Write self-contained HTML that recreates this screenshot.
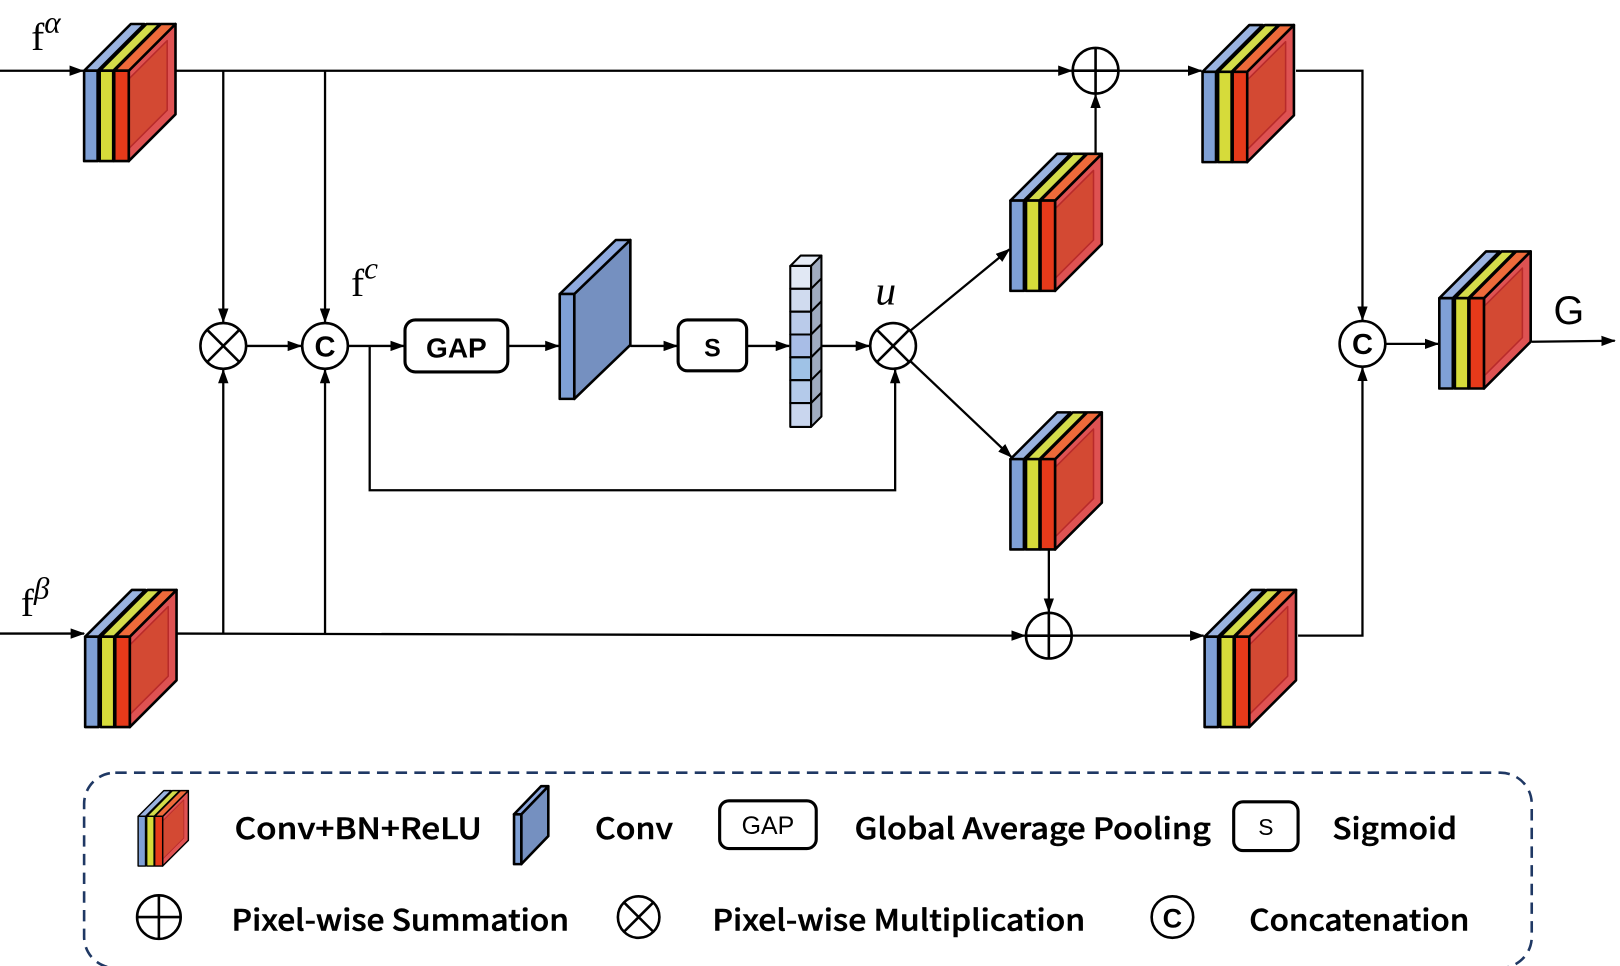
<!DOCTYPE html>
<html><head><meta charset="utf-8"><style>
html,body{margin:0;padding:0;background:#fff;}
svg{display:block;}
.t{font-family:"Noto Sans CJK SC","Liberation Sans",sans-serif;font-size:28px;fill:#000;font-weight:500;stroke:#000;stroke-width:0.5;}
.s{font-family:"Liberation Serif",serif;fill:#000;}
</style></head><body>
<svg width="1620" height="966" viewBox="0 0 1560 930" xmlns="http://www.w3.org/2000/svg">
<defs>
<marker id="a" markerWidth="14" markerHeight="10" refX="13" refY="5" orient="auto" markerUnits="userSpaceOnUse">
<path d="M0,0 L14,5 L0,10 z" fill="#000"/></marker>
<g id="blk" stroke="#000" stroke-width="2.5" stroke-linejoin="round">
<path d="M43,0 L88,-45 L88,42 L43,87 z" fill="#DE5252"/>
<path d="M43,8 L80,-29 L80,38 L43,75 z" fill="#CC4420" stroke="#A01010" stroke-width="1.5" opacity="0.6"/>
<path d="M0,0 L45,-45 L58,-45 L13,0 z" fill="#9AB3E0"/>
<path d="M15,0 L60,-45 L73,-45 L28,0 z" fill="#D4DC4A"/>
<path d="M29,0 L74,-45 L88,-45 L43,0 z" fill="#EE6A3A"/>
<rect x="0" y="0" width="13" height="87" fill="#7FA0D6"/>
<rect x="15" y="0" width="13" height="87" fill="#D6DB3A"/>
<rect x="29" y="0" width="14" height="87" fill="#E63A1A"/>
</g>
</defs>

<g fill="none" stroke="#000" stroke-width="2.2">
<line x1="0" y1="68" x2="80" y2="68" marker-end="url(#a)"/>
<line x1="168" y1="68" x2="1032" y2="68" marker-end="url(#a)"/>
<line x1="1077" y1="68" x2="1157" y2="68" marker-end="url(#a)"/>
<polyline points="1248,68 1312,68 1312,308" marker-end="url(#a)"/>
<line x1="215" y1="68" x2="215" y2="310" marker-end="url(#a)"/>
<line x1="313" y1="68" x2="313" y2="310" marker-end="url(#a)"/>
<line x1="0" y1="610" x2="81" y2="610" marker-end="url(#a)"/>
<line x1="170" y1="610" x2="987" y2="612" marker-end="url(#a)"/>
<line x1="1032" y1="612" x2="1159" y2="612" marker-end="url(#a)"/>
<polyline points="1250,612 1312,612 1312,354" marker-end="url(#a)"/>
<line x1="215" y1="610" x2="215" y2="356" marker-end="url(#a)"/>
<line x1="313" y1="610" x2="313" y2="356" marker-end="url(#a)"/>
<line x1="237" y1="333" x2="290" y2="333" marker-end="url(#a)"/>
<line x1="335" y1="333" x2="389" y2="333" marker-end="url(#a)"/>
<polyline points="356,333 356,472 862,472 862,356" marker-end="url(#a)"/>
<line x1="489" y1="333" x2="538" y2="333" marker-end="url(#a)"/>
<line x1="607" y1="333" x2="652" y2="333" marker-end="url(#a)"/>
<line x1="719" y1="333" x2="760" y2="333" marker-end="url(#a)"/>
<line x1="791" y1="333" x2="837" y2="333" marker-end="url(#a)"/>
<line x1="877" y1="318" x2="972" y2="240" marker-end="url(#a)"/>
<line x1="877" y1="348" x2="974" y2="440" marker-end="url(#a)"/>
<line x1="1055" y1="148" x2="1055" y2="91" marker-end="url(#a)"/>
<line x1="1010" y1="529" x2="1010" y2="589" marker-end="url(#a)"/>
<line x1="1334" y1="331" x2="1385" y2="331" marker-end="url(#a)"/>
<line x1="1475" y1="329" x2="1555" y2="328" marker-end="url(#a)"/>
</g>

<use href="#blk" x="81" y="68"/>
<use href="#blk" x="82" y="613"/>
<use href="#blk" x="973" y="193"/>
<use href="#blk" x="973" y="442"/>
<use href="#blk" x="1158" y="69"/>
<use href="#blk" x="1160" y="613"/>
<use href="#blk" x="1386" y="287"/>

<g stroke="#000" stroke-width="2.5" stroke-linejoin="round">
<path d="M553,283 L607,231 L607,332 L553,384 z" fill="#7590C0"/>
<path d="M539,283 L593,231 L607,231 L553,283 z" fill="#8FAADF"/>
<rect x="539" y="283" width="14" height="101" fill="#7FA0D6"/>
</g>
<g stroke="#000" stroke-width="2" stroke-linejoin="round">
<path d="M761,256 L771,246 L791,246 L781,256 z" fill="#E6ECF6"/>
<path d="M781,256 L791,246 L791,401 L781,411 z" fill="#A0ACC0"/>
<rect x="761" y="256" width="20" height="22" fill="#E1E8F4"/>
<rect x="761" y="278" width="20" height="22" fill="#D0DBEF"/>
<rect x="761" y="300" width="20" height="22" fill="#BACBEA"/>
<rect x="761" y="322" width="20" height="22" fill="#A8BDE6"/>
<rect x="761" y="344" width="20" height="22" fill="#9FC2E6"/>
<rect x="761" y="366" width="20" height="22" fill="#B4CAEA"/>
<rect x="761" y="388" width="20" height="23" fill="#C9D6EE"/>
<path d="M781,278 L791,268 M781,300 L791,290 M781,322 L791,312 M781,344 L791,334 M781,366 L791,356 M781,388 L791,378" fill="none"/>
</g>

<rect x="390" y="308" width="99" height="50" rx="10" fill="#fff" stroke="#000" stroke-width="3"/>
<text x="439.5" y="344" text-anchor="middle" font-family="Liberation Sans,sans-serif" font-weight="bold" font-size="27">GAP</text>
<rect x="653" y="308" width="66" height="49" rx="9" fill="#fff" stroke="#000" stroke-width="3"/>
<text x="686" y="343" text-anchor="middle" font-family="Liberation Sans,sans-serif" font-weight="bold" font-size="24">S</text>

<g fill="#fff" stroke="#000" stroke-width="2.5">
<circle cx="215" cy="333" r="22"/><path d="M199.5,317.5 L230.5,348.5 M230.5,317.5 L199.5,348.5"/>
<circle cx="860" cy="333" r="22"/><path d="M844.5,317.5 L875.5,348.5 M875.5,317.5 L844.5,348.5"/>
<circle cx="313" cy="333" r="22"/>
<circle cx="1312" cy="331" r="22"/>
<circle cx="1055" cy="68" r="22"/><path d="M1033,68 L1077,68 M1055,46 L1055,90"/>
<circle cx="1010" cy="612" r="22"/><path d="M988,612 L1032,612 M1010,590 L1010,634"/>
</g>
<text x="313" y="343" text-anchor="middle" font-family="Liberation Sans,sans-serif" font-weight="bold" font-size="28">C</text>
<text x="1312" y="341" text-anchor="middle" font-family="Liberation Sans,sans-serif" font-weight="bold" font-size="28">C</text>

<text class="s" x="30" y="48" font-size="38">f<tspan font-style="italic" font-size="30" dy="-17">α</tspan></text>
<text class="s" x="20" y="593" font-size="38">f<tspan font-style="italic" font-size="30" dy="-17">β</tspan></text>
<text class="s" x="338" y="285" font-size="38">f<tspan font-style="italic" font-size="30" dy="-17">c</tspan></text>
<text class="s" x="843" y="293" font-size="40" font-style="italic">u</text>
<text x="1496" y="312" font-family="Liberation Sans,sans-serif" font-size="38">G</text>

<rect x="81" y="744" width="1394" height="188" rx="30" fill="none" stroke="#1F3864" stroke-width="2.5" stroke-dasharray="11,7"/>
<g transform="translate(133,786) scale(0.55)"><use href="#blk" x="0" y="0"/></g>
<g stroke="#000" stroke-width="2.5" stroke-linejoin="round">
<path d="M502,784 L528,757 L528,805 L502,832 z" fill="#7590C0"/>
<path d="M495,784 L521,757 L528,757 L502,784 z" fill="#8FAADF"/>
<rect x="495" y="784" width="7" height="48" fill="#7FA0D6"/>
</g>
<rect x="693" y="771" width="93" height="46" rx="9" fill="#fff" stroke="#000" stroke-width="3"/>
<text x="739.5" y="803" text-anchor="middle" font-family="Liberation Sans,sans-serif" font-size="24">GAP</text>
<rect x="1188" y="772" width="62" height="47" rx="9" fill="#fff" stroke="#000" stroke-width="3"/>
<text x="1219" y="804" text-anchor="middle" font-family="Liberation Sans,sans-serif" font-size="22">S</text>
<g fill="#fff" stroke="#000" stroke-width="2.5">
<circle cx="153" cy="883" r="21"/><path d="M132,883 L174,883 M153,862 L153,904"/>
<circle cx="615" cy="883" r="20"/><path d="M601,869 L629,897 M629,869 L601,897"/>
<circle cx="1129" cy="883" r="20"/>
</g>
<text x="1129" y="893" text-anchor="middle" font-family="Liberation Sans,sans-serif" font-weight="bold" font-size="26">C</text>
<text class="t" x="226" y="808" textLength="238" lengthAdjust="spacingAndGlyphs">Conv+BN+ReLU</text>
<text class="t" x="573" y="808" textLength="75" lengthAdjust="spacingAndGlyphs">Conv</text>
<text class="t" x="823" y="808" textLength="343" lengthAdjust="spacingAndGlyphs">Global Average Pooling</text>
<text class="t" x="1283" y="808" textLength="120" lengthAdjust="spacingAndGlyphs">Sigmoid</text>
<text class="t" x="223" y="896" textLength="325" lengthAdjust="spacingAndGlyphs">Pixel-wise Summation</text>
<text class="t" x="686" y="896" textLength="359" lengthAdjust="spacingAndGlyphs">Pixel-wise Multiplication</text>
<text class="t" x="1203" y="896" textLength="212" lengthAdjust="spacingAndGlyphs">Concatenation</text>
</svg>
</body></html>
